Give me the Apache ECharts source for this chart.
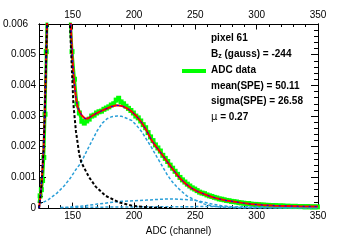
<!DOCTYPE html>
<html>
<head>
<meta charset="utf-8">
<script src="https://cdn.jsdelivr.net/npm/echarts@6/dist/echarts.min.js"></script>
<style>
  html, body { margin: 0; padding: 0; background: #fff; }
  #main { width: 354px; height: 241px; }
</style>
</head>
<body>
<div id="main"></div>
<script>
(function () {
  // ADC data (green)
  const dataAdc = [122.5, 123.5, 124.5, 125.5, 126.5, 127.5, 128.5, 129.5, 138, 147.5,
    149.5, 151.5, 153.5, 155.5, 157.5, 159.5, 161.5, 163.5, 165.5, 167.5,
    169.5, 171.5, 173.5, 175.5, 177.5, 179.5, 181.5, 183.5, 185.5, 187.5,
    189.5, 191.5, 193.5, 195.5, 197.5, 199.5, 201.5, 203.5, 205.5, 207.5,
    209.5, 211.5, 213.5, 215.5, 217.5, 219.5, 221.5, 223.5, 225.5, 227.5,
    229.5, 231.5, 233.5, 235.5, 237.5, 239.5, 241.5, 243.5, 245.5, 247.5,
    249.5, 251.5, 253.5, 255.5, 257.5, 259.5, 261.5, 263.5, 265.5, 267.5,
    269.5, 271.5, 273.5, 275.5, 277.5, 279.5, 281.5, 283.5, 285.5, 287.5,
    289.5, 291.5, 293.5, 295.5, 297.5, 299.5, 301.5, 303.5, 305.5, 307.5,
    309.5, 311.5, 313.5, 315.5, 317.5, 319.5, 321.5, 323.5, 325.5, 327.5,
    329.5, 331.5, 333.5, 335.5, 337.5, 339.5, 341.5, 343.5, 345.5, 347.5, 349.5];
  const dataVal = [0.00017, 0.0004, 0.0006, 0.0009, 0.00165, 0.00306, 0.0051, 0.0068, 0.02, 0.0065,
    0.0051, 0.0042, 0.0034, 0.0031, 0.00283, 0.00277, 0.00284, 0.0029, 0.003, 0.00303,
    0.0031, 0.00314, 0.00316, 0.00322, 0.00326, 0.0033, 0.00336, 0.0034, 0.00352, 0.00358,
    0.00346, 0.0034, 0.00332, 0.00325, 0.00318, 0.0031, 0.003, 0.00294, 0.00284, 0.00272,
    0.00262, 0.00246, 0.00232, 0.0022, 0.00206, 0.00196, 0.00186, 0.00172, 0.00162, 0.00152,
    0.0014, 0.0013, 0.0012, 0.0011, 0.001, 0.00092, 0.00085, 0.00078, 0.00072, 0.00066,
    0.00062, 0.00057, 0.00052, 0.00049, 0.00047, 0.00043, 0.0004, 0.00038, 0.00035, 0.00033,
    0.0003, 0.00029, 0.00027, 0.00025, 0.00024, 0.00022, 0.00021, 0.0002, 0.00018, 0.00017,
    0.00016, 0.00015, 0.00015, 0.00013, 0.00012, 0.00012, 0.00011, 0.0001, 0.0001, 0.00009,
    0.00009, 0.00008, 0.00008, 0.00008, 0.00007, 0.00007, 0.00007, 0.00006, 0.00006, 0.00006,
    0.00005, 0.00006, 0.00005, 0.00005, 0.00005, 0.00004, 0.00005, 0.00004, 0.00004, 0.00004, 0.00004];

  // total fit (red, blue dashed on top)
  const totalAdc = [122.6, 123.5, 124.5, 125.3, 126.3, 127.2, 128.2, 129.1, 130, 138.5,
    147, 148.5, 149.5, 151, 152.7, 154, 155.5, 157.5, 160, 162.5,
    165.5, 169, 173, 177, 181, 186, 190, 194, 198, 202,
    206, 210, 214.5, 218.5, 222.5, 226.5, 230.5, 234.5, 238.5, 242.5,
    246.5, 252, 257.5, 263, 268, 275, 282, 288, 295, 305,
    315, 325, 335, 350];
  const totalVal = [0, 0.0003, 0.0007, 0.0012, 0.0019, 0.003, 0.0045, 0.006, 0.0078, 0.02,
    0.0078, 0.006, 0.0051, 0.0042, 0.0036, 0.0033, 0.00316, 0.00302, 0.00292, 0.00292,
    0.003, 0.00308, 0.00316, 0.00323, 0.0033, 0.00335, 0.00333, 0.00326, 0.00315, 0.003,
    0.0028, 0.00255, 0.0022, 0.00198, 0.00177, 0.00155, 0.00133, 0.00112, 0.00093, 0.00078,
    0.00066, 0.00054, 0.00045, 0.00037, 0.00031, 0.00025, 0.00021, 0.00017, 0.00013, 0.0001,
    0.00008, 0.00007, 0.00006, 0.00005];

  // pedestal (black)
  const pedAdc = [122.6, 123.5, 124.5, 125.3, 126.3, 127.2, 128.2, 129.1, 130, 138.5,
    147, 147.8, 149.5, 150.6, 152.7, 155.4, 157, 159.5, 163.5, 168.8,
    176.9, 187.7, 198.4, 211.9, 230];
  const pedVal = [0, 0.0003, 0.0007, 0.0012, 0.0019, 0.003, 0.0045, 0.006, 0.0078, 0.02,
    0.0078, 0.006, 0.0044, 0.0034, 0.0025, 0.00175, 0.0015, 0.0013, 0.001, 0.0007,
    0.0004, 0.00019, 0.00008, 0.00002, 0];

  // single photoelectron (light blue)
  const speAdc = [122.6, 130, 137, 143, 148, 152.7, 156.7, 161, 166.1, 170,
    174.2, 178, 182, 186.5, 190, 194.4, 198.4, 202.4, 206.5, 210.5,
    214.5, 218.5, 222.6, 226.6, 230.7, 234.7, 238.7, 243, 249.4, 257.5,
    265, 275, 290, 350];
  const speVal = [0.00012, 0.00027, 0.00048, 0.00072, 0.00097, 0.00126, 0.00147, 0.00182, 0.00222, 0.00252,
    0.00277, 0.00291, 0.00298, 0.003, 0.00299, 0.00292, 0.00285, 0.00268, 0.00248, 0.00222,
    0.00196, 0.00168, 0.0014, 0.00112, 0.00088, 0.0007, 0.00055, 0.0004, 0.00027, 0.00013,
    0.00006, 0.00002, 0, 0];

  // two photoelectrons (light blue)
  const pe2Adc = [140, 150, 160.7, 170, 182.3, 190, 200.8, 210, 222.6, 230.7,
    240, 249.2, 257.5, 264, 271, 280, 290, 300, 310, 350];
  const pe2Val = [0.00001, 0.00004, 0.00008, 0.00013, 0.00019, 0.00022, 0.00024, 0.00026, 0.00029, 0.0003,
    0.00028, 0.00026, 0.00019, 0.00013, 0.00008, 0.00004, 0.00002, 0.00001, 0, 0];

  // three photoelectrons (light blue, near zero)
  const pe3Adc = [140, 200, 260, 300, 350];
  const pe3Val = [0.00002, 0.00004, 0.00005, 0.00004, 0.00003];

  const xMajor = [150, 200, 250, 300, 350];
  const xMinor = [130, 140, 160, 170, 180, 190, 210, 220, 230, 240, 260, 270, 280, 290, 310, 320, 330, 340];

  const infoLines = ['pixel 61', 'B_z (gauss) = -244', 'ADC data', 'mean(SPE) = 50.11', 'sigma(SPE) = 26.58', 'μ = 0.27'];

  const xMin = 122.6, xMax = 350;
  const cyan = '#2a9fd8';
  const font = 'Liberation Sans, Arial, sans-serif';

  function zip(xs, ys) {
    return xs.map(function (x, i) { return [x, ys[i]]; });
  }

  const myChart = echarts.init(document.getElementById('main'), null, { renderer: 'canvas' });

  function xAxisDef(pos, ticks, len, labels) {
    return {
      type: 'value', position: pos, min: xMin, max: xMax,
      axisLine: { show: true, onZero: false, lineStyle: { color: '#000', width: 1 } },
      axisTick: { show: true, inside: true, length: len, customValues: ticks, lineStyle: { color: '#000' } },
      axisLabel: labels ? { show: true, customValues: ticks, color: '#000', fontSize: 10, fontFamily: font, margin: pos === 'top' ? 4 : 3 } : { show: false },
      splitLine: { show: false }
    };
  }

  function yAxisDef(pos, step, len, labels) {
    return {
      type: 'value', position: pos, min: 0, max: 0.006, interval: step,
      axisLine: { show: true, onZero: false, lineStyle: { color: '#000', width: 1 } },
      axisTick: { show: true, inside: true, length: len, lineStyle: { color: '#000' } },
      axisLabel: labels ? {
        show: true, color: '#000', fontSize: 10, fontFamily: font, margin: 3,
        formatter: function (v) {
          if (v === 0) return '0';
          const s = v.toFixed(3);
          return v > 0.0055 ? '{top|' + s + '}' : s;
        },
        rich: { top: { fontSize: 10, fontFamily: font, color: '#000', padding: [0, 8, 0, 0] } }
      } : { show: false },
      splitLine: { show: false }
    };
  }

  const xAxes = [
    xAxisDef('bottom', xMajor, 5.5, true),
    xAxisDef('bottom', xMinor, 3, false),
    xAxisDef('top', xMajor, 5.5, true),
    xAxisDef('top', xMinor, 3, false)
  ];
  xAxes[0].name = 'ADC (channel)';
  xAxes[0].nameLocation = 'middle';
  xAxes[0].nameGap = 15;
  xAxes[0].nameTextStyle = { color: '#000', fontSize: 10, fontFamily: font };

  const yAxes = [
    yAxisDef('left', 0.001, 7, true),
    yAxisDef('left', 0.0002, 4, false),
    yAxisDef('right', 0.001, 7, false),
    yAxisDef('right', 0.0002, 4, false)
  ];

  const textX = 211;
  const textY = [39.5, 55, 71, 87, 102.5, 118];

  const bold = { fontSize: 10, fontWeight: 'bold', fontFamily: font, color: '#000', lineHeight: 12 };

  const graphics = infoLines.map(function (line, i) {
    let text = line;
    let rich = { b: bold };
    if (line.indexOf('B_z') === 0) {
      text = '{b|B}{s|z}{b|' + line.slice(3) + '}';
      rich.s = { fontSize: 7, fontWeight: 'bold', fontFamily: font, color: '#000', lineHeight: 7, verticalAlign: 'bottom' };
    } else if (line.indexOf('μ') === 0) {
      text = '{m|μ}{b|' + line.slice(1) + '}';
      rich.m = { fontSize: 10, fontFamily: 'DejaVu Sans, sans-serif', color: '#000', lineHeight: 12 };
    } else {
      text = '{b|' + line + '}';
    }
    return {
      type: 'text', left: textX, top: textY[i] - 6, z: 100,
      style: { text: text, rich: rich, fill: '#000' }
    };
  });
  graphics.push({
    type: 'line', z: 100,
    shape: { x1: 182, y1: 71, x2: 206, y2: 71 },
    style: { stroke: '#00ff00', lineWidth: 4 }
  });

  function lineSeries(name, xs, ys, color, width, type, z) {
    return {
      name: name, type: 'line', data: zip(xs, ys), xAxisIndex: 0, yAxisIndex: 0,
      showSymbol: false, smooth: false, clip: true, z: z,
      lineStyle: { color: color, width: width, type: type },
      animation: false
    };
  }

  const option = {
    animation: false,
    backgroundColor: '#fff',
    grid: { left: 36, right: 36, top: 24, bottom: 25, show: false },
    xAxis: xAxes,
    yAxis: yAxes,
    graphic: graphics,
    series: [
      {
        name: 'ADC data', type: 'line', data: zip(dataAdc, dataVal),
        symbol: 'rect', symbolSize: 5, showSymbol: true, clip: true, z: 1,
        itemStyle: { color: '#00ff00' },
        lineStyle: { color: '#00ff00', width: 3 },
        animation: false
      },
      lineSeries('SPE', speAdc, speVal, cyan, 1.5, [3, 2], 3),
      lineSeries('2PE', pe2Adc, pe2Val, cyan, 1.5, [3, 2], 3),
      lineSeries('3PE', pe3Adc, pe3Val, cyan, 1.5, [3, 2], 3),
      lineSeries('fit', totalAdc, totalVal, '#ff0000', 2, 'solid', 4),
      lineSeries('pedestal', pedAdc, pedVal, '#000000', 2, [3, 2], 5),
      lineSeries('fit dashed', totalAdc, totalVal, '#0000ff', 1, [2, 4], 6)
    ]
  };

  myChart.setOption(option);
})();
</script>
</body>
</html>
